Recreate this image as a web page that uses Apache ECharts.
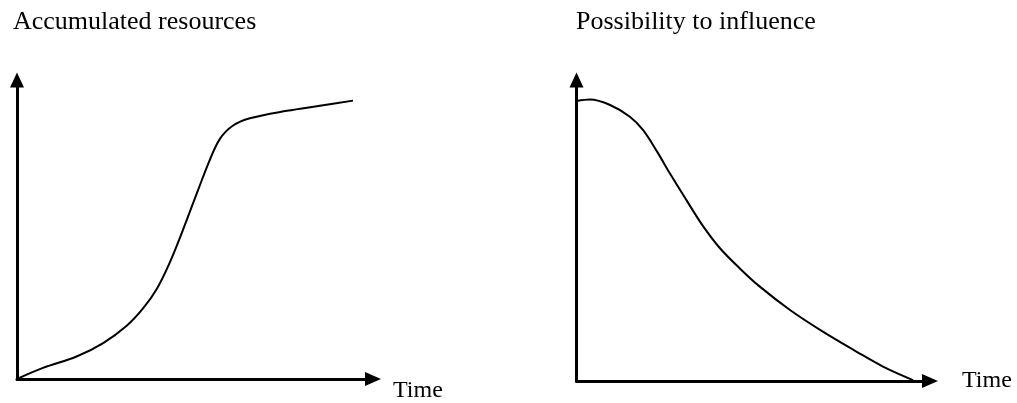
<!DOCTYPE html>
<html>
<head>
<meta charset="utf-8">
<script src="https://cdn.jsdelivr.net/npm/echarts@6/dist/echarts.min.js"></script>
<style>html,body{margin:0;padding:0;background:#fff;}#c{width:1017px;height:403px;}</style>
</head>
<body>
<div id="c"></div>
<script>
// Titles and axis labels
var titles = ['Accumulated resources', 'Possibility to influence'];
var axisName = 'Time';

// Left chart: accumulated resources over time (x: time 0-100, y: 0-100)
var resTime = [0, 7.3, 16.9, 24.2, 30.9, 35.4, 39.3, 43.0, 46.6, 50.8, 54.2, 57.0, 60.5, 65.4, 75.8, 85.1, 94.4];
var resValue = [0, 3.7, 7.6, 12.0, 17.9, 23.6, 30.2, 39.2, 49.8, 63.0, 73.4, 80.3, 84.6, 87.2, 89.7, 91.4, 93.1];

// Right chart: possibility to influence over time
var infTime = [0, 3.8, 9.5, 15.1, 18.8, 22.8, 26.4, 31.1, 35.6, 40.6, 46.2, 51.6, 60.4, 69.7, 79.3, 86.7, 95.2];
var infValue = [93.0, 93.5, 91.7, 87.8, 83.4, 76.2, 69.0, 60.1, 51.8, 44.1, 37.4, 31.6, 23.6, 16.4, 9.7, 4.8, 0.3];

function pairs(xs, ys) { return xs.map(function (x, i) { return [x, ys[i]]; }); }

var font = '"Liberation Serif", "Times New Roman", serif';
var axisLineX = { show: true, onZero: true, symbol: ['none', 'triangle'], symbolSize: [14, 16],
  lineStyle: { color: '#000', width: 3 } };
var axisLineY = { show: true, onZero: true, symbol: ['none', 'triangle'], symbolSize: [14, 15],
  lineStyle: { color: '#000', width: 3 } };

function xAxis(gi, gap, va) {
  return { type: 'value', gridIndex: gi, min: 0, max: 100, axisLine: axisLineX,
    axisTick: { show: false }, axisLabel: { show: false }, splitLine: { show: false },
    name: axisName, nameLocation: 'end', nameGap: gap,
    nameTextStyle: { fontFamily: font, fontSize: 24, lineHeight: 24, color: '#000', align: 'left', verticalAlign: va } };
}
function yAxis(gi) {
  return { type: 'value', gridIndex: gi, min: 0, max: 100, axisLine: axisLineY,
    axisTick: { show: false }, axisLabel: { show: false }, splitLine: { show: false } };
}

var titleStyle = { fontFamily: font, fontSize: 26, fontWeight: 'normal', color: '#000' };
var chart = echarts.init(document.getElementById('c'), null, { renderer: 'canvas' });
chart.setOption({
  animation: false,
  backgroundColor: '#fff',
  title: [
    { text: titles[0], left: 13, top: 9, padding: 0, textStyle: titleStyle },
    { text: titles[1], left: 576, top: 9, padding: 0, textStyle: titleStyle }
  ],
  grid: [
    { left: 17, top: 80, width: 356, height: 301 },
    { left: 576.5, top: 80, width: 353.5, height: 301 }
  ],
  xAxis: [xAxis(0, 20, 'top'), xAxis(1, 32, 'middle')],
  yAxis: [yAxis(0), yAxis(1)],
  series: [
    { type: 'line', xAxisIndex: 0, yAxisIndex: 0, data: pairs(resTime, resValue), smooth: 0.35,
      showSymbol: false, lineStyle: { color: '#000', width: 2 }, clip: false },
    { type: 'line', xAxisIndex: 1, yAxisIndex: 1, data: pairs(infTime, infValue), smooth: 0.35,
      showSymbol: false, lineStyle: { color: '#000', width: 2 }, clip: false }
  ]
});
</script>
</body>
</html>
